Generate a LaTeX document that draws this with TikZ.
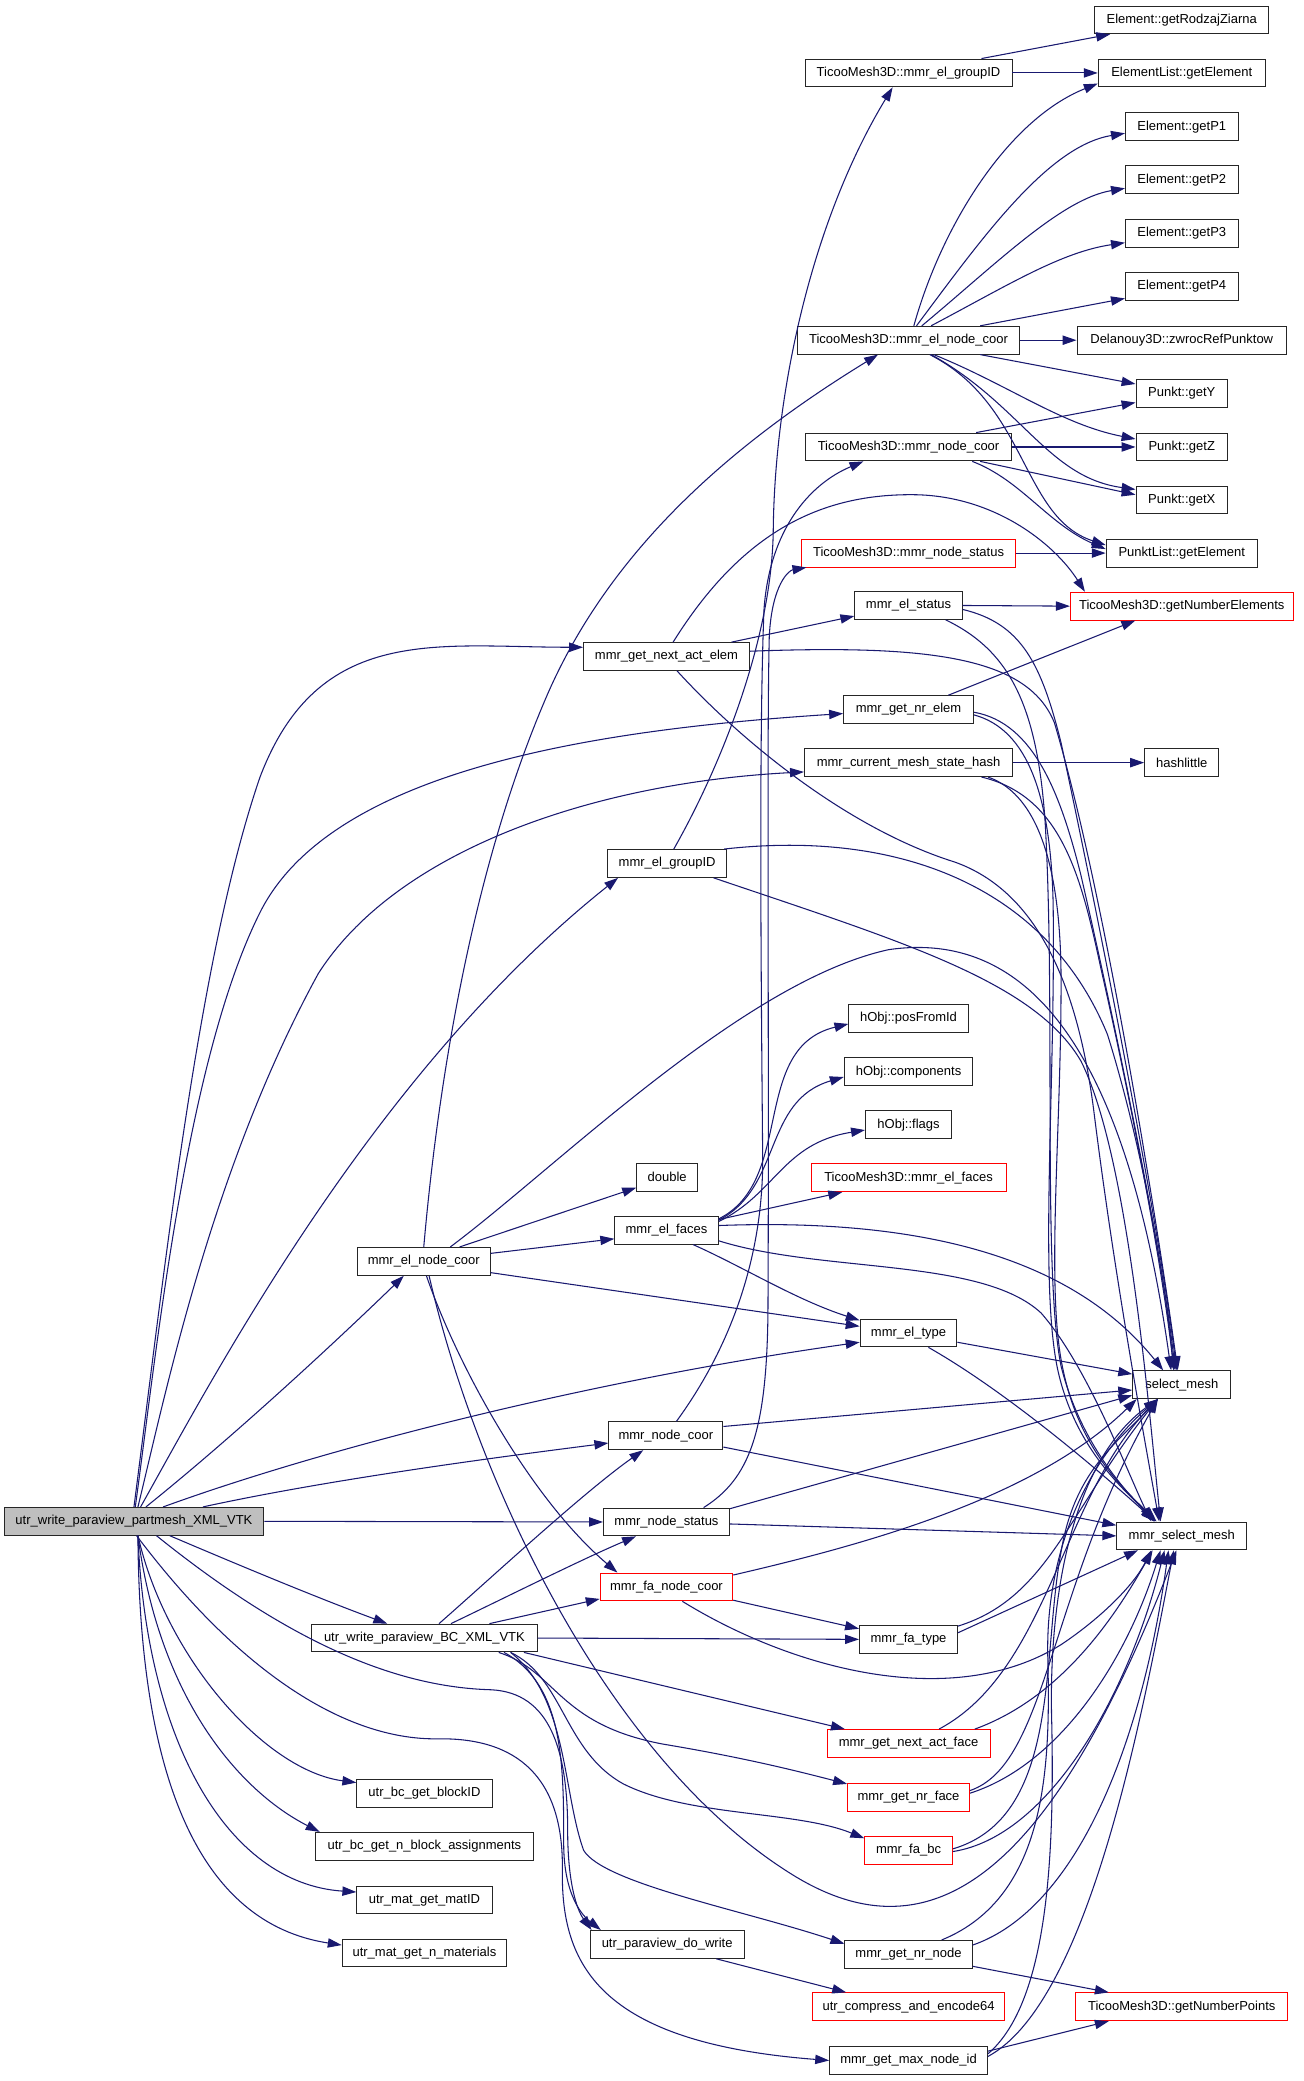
\documentclass[tikz,border=0pt]{standalone}
\usepackage{fontspec}
\setmainfont{Liberation Sans}
\usetikzlibrary{arrows.meta}
\definecolor{eblue}{RGB}{25,25,112}
\definecolor{bgray}{RGB}{191,191,191}
\tikzset{
  box/.style={draw=black!85, fill=white, line width=0.7pt, minimum height=21pt, inner sep=0pt, font=\fontsize{9.8}{11}\selectfont},
  rbox/.style={box, draw=red},
  e/.style={draw=eblue, line width=0.8pt, -{Triangle[length=10.5pt,width=7pt]}}
}
\begin{document}
\begin{tikzpicture}[x=1pt,y=-1pt]
\useasboundingbox (0,0) rectangle (983,1569);
\fill[white] (0,0) rectangle (983,1569);
% ---------- right column
\node[box, minimum width=131pt] (RZ) at (891,15) {Element::getRodzajZiarna};
\node[box, minimum width=126pt] (EL) at (891,55) {ElementList::getElement};
\node[box, minimum width=85pt] (P1) at (891,95.5) {Element::getP1};
\node[box, minimum width=85pt] (P2) at (891,135.5) {Element::getP2};
\node[box, minimum width=85pt] (P3) at (891,176) {Element::getP3};
\node[box, minimum width=85pt] (P4) at (891,216) {Element::getP4};
\node[box, minimum width=158pt] (DZ) at (891,256.5) {Delanouy3D::zwrocRefPunktow};
\node[box, minimum width=69pt] (PY) at (891,296.5) {Punkt::getY};
\node[box, minimum width=69pt] (PZ) at (891,337) {Punkt::getZ};
\node[box, minimum width=69pt] (PX) at (891,377) {Punkt::getX};
\node[box, minimum width=114pt] (PL) at (891,417) {PunktList::getElement};
\node[rbox, minimum width=168pt] (GNE) at (891,457) {TicooMesh3D::getNumberElements};
\node[box, minimum width=56pt] (HL) at (891,575) {hashlittle};
\node[box, minimum width=74pt] (SM) at (891,1044) {select\_mesh};
\node[box, minimum width=98pt] (MSM) at (891,1158) {mmr\_select\_mesh};
\node[rbox, minimum width=160pt] (GNP) at (891,1513) {TicooMesh3D::getNumberPoints};
% ---------- middle column
\node[box, minimum width=156pt] (TEG) at (685,55) {TicooMesh3D::mmr\_el\_groupID};
\node[box, minimum width=167pt] (TENC) at (685,256.5) {TicooMesh3D::mmr\_el\_node\_coor};
\node[box, minimum width=155pt] (TNC) at (685,337) {TicooMesh3D::mmr\_node\_coor};
\node[rbox, minimum width=161pt] (TNS) at (685,417) {TicooMesh3D::mmr\_node\_status};
\node[box, minimum width=81pt] (ES) at (685,456.5) {mmr\_el\_status};
\node[box, minimum width=98pt] (GNRE) at (685,535) {mmr\_get\_nr\_elem};
\node[box, minimum width=157pt] (CMSH) at (685,575) {mmr\_current\_mesh\_state\_hash};
\node[box, minimum width=90pt] (POS) at (685,768) {hObj::posFromId};
\node[box, minimum width=97pt] (COMP) at (685,808) {hObj::components};
\node[box, minimum width=65pt] (FLAGS) at (685,848) {hObj::flags};
\node[rbox, minimum width=147pt] (TEF) at (685,888) {TicooMesh3D::mmr\_el\_faces};
\node[box, minimum width=73pt] (ET) at (685,1005) {mmr\_el\_type};
\node[box, minimum width=74pt] (FT) at (685,1236) {mmr\_fa\_type};
\node[rbox, minimum width=123pt] (GNAF) at (685,1314.5) {mmr\_get\_next\_act\_face};
\node[rbox, minimum width=92pt] (GNRF) at (685,1355) {mmr\_get\_nr\_face};
\node[rbox, minimum width=66pt] (FABC) at (685,1395) {mmr\_fa\_bc};
\node[box, minimum width=96pt] (GNRN) at (685,1473.5) {mmr\_get\_nr\_node};
\node[rbox, minimum width=145pt] (UCE) at (685,1513) {utr\_compress\_and\_encode64};
\node[box, minimum width=119pt] (GMNI) at (685,1553.5) {mmr\_get\_max\_node\_id};
% ---------- second column
\node[box, minimum width=125pt] (NAE) at (502.5,495) {mmr\_get\_next\_act\_elem};
\node[box, minimum width=90pt] (EGID) at (503,651) {mmr\_el\_groupID};
\node[box, minimum width=46pt] (DOUBLE) at (503,887.5) {double};
\node[box, minimum width=78pt] (EF) at (502.5,927.5) {mmr\_el\_faces};
\node[box, minimum width=86pt] (NC) at (502,1082.5) {mmr\_node\_coor};
\node[box, minimum width=95pt] (NS) at (502.5,1147.5) {mmr\_node\_status};
\node[rbox, minimum width=100pt] (FNC) at (502.5,1196.5) {mmr\_fa\_node\_coor};
\node[box, minimum width=116pt] (PDW) at (503,1466) {utr\_paraview\_do\_write};
% ---------- first column
\node[box, minimum width=100pt] (ENC) at (319.5,951) {mmr\_el\_node\_coor};
\node[box, minimum width=170pt] (BC) at (320,1235) {utr\_write\_paraview\_BC\_XML\_VTK};
\node[box, minimum width=102pt] (BID) at (320,1352) {utr\_bc\_get\_blockID};
\node[box, minimum width=164pt] (NBA) at (320,1392) {utr\_bc\_get\_n\_block\_assignments};
\node[box, minimum width=102pt] (MID) at (320,1432.5) {utr\_mat\_get\_matID};
\node[box, minimum width=124pt] (NMAT) at (320,1472.5) {utr\_mat\_get\_n\_materials};
% ---------- main
\node[box, minimum width=196pt, fill=bgray] (M) at (101,1147) {utr\_write\_paraview\_partmesh\_XML\_VTK};

% ===== edges from main
\draw[e] (M.north) .. controls (125,950) and (150,720) .. (196,586) .. controls (240,470) and (330,488) .. ([yshift=7]NAE.west);
\draw[e] ([xshift=1]M.north) .. controls (118,1020) and (140,800) .. (196,688) .. controls (250,580) and (450,550) .. ([yshift=-3]GNRE.west);
\draw[e] ([xshift=3]M.north) .. controls (125,1050) and (160,880) .. (240,734) .. controls (300,640) and (450,590) .. ([yshift=-7]CMSH.west);
\draw[e] ([xshift=5]M.north) .. controls (160,1040) and (280,810) .. ([xshift=-37]EGID.south);
\draw[e] ([xshift=9]M.north) .. controls (180,1080) and (260,1005) .. ([xshift=-15]ENC.south);
\draw[e] ([xshift=22]M.north) .. controls (250,1090) and (450,1040) .. ([yshift=-7]ET.west);
\draw[e] ([xshift=52]M.north) .. controls (250,1115) and (380,1098) .. ([yshift=-5.5]NC.west);
\draw[e] (M.east) -- (NS.west);
\draw[e] ([xshift=27]M.south) .. controls (180,1180) and (240,1205) .. ([xshift=-28]BC.north);
\draw[e] ([xshift=3]M.south) .. controls (125,1250) and (200,1335) .. ([yshift=8]BID.west);
\draw[e] ([xshift=3]M.south) .. controls (120,1280) and (180,1350) .. ([xshift=-79]NBA.north);
\draw[e] ([xshift=3]M.south) .. controls (110,1310) and (170,1420) .. ([yshift=6]MID.west);
\draw[e] ([xshift=3]M.south) .. controls (105,1340) and (150,1450) .. ([yshift=6]NMAT.west);
\draw[e] ([xshift=17]M.south) .. controls (220,1240) and (300,1272) .. (370,1274) .. controls (415,1276) and (428,1320) .. (428,1380) .. controls (428,1420) and (435,1440) .. ([xshift=-57]PDW.north);
\draw[e] ([xshift=2]M.south) .. controls (180,1260) and (260,1312) .. (330,1311) .. controls (390,1310) and (425,1340) .. (424,1410) .. controls (423,1480) and (450,1540) .. (GMNI.west);

% ===== edges from BC
\draw[e] ([xshift=11]BC.north) .. controls (370,1190) and (440,1125) .. ([xshift=-17]NC.south);
\draw[e] ([xshift=20]BC.north) .. controls (380,1205) and (440,1175) .. ([xshift=-23]NS.south);
\draw[e] ([xshift=49]BC.north) -- ([yshift=-9]FNC.west);
\draw[e] (BC.east) -- (FT.west);
\draw[e] ([xshift=75]BC.south) -- ([xshift=-48]GNAF.north);
\draw[e] ([xshift=56]BC.south) .. controls (420,1260) and (420,1300) .. (500,1315) .. controls (560,1325) and (600,1335) .. ([yshift=10]GNRF.west);
\draw[e] ([xshift=65]BC.south) .. controls (425,1265) and (425,1320) .. (470,1345) .. controls (520,1370) and (600,1365) .. ([yshift=9]FABC.west);
\draw[e] ([xshift=65]BC.south) .. controls (428,1280) and (424,1350) .. (440,1395) .. controls (455,1420) and (560,1440) .. ([yshift=8]GNRN.west);
\draw[e] ([xshift=60]BC.south) .. controls (425,1270) and (425,1330) .. (425,1390) .. controls (425,1430) and (440,1445) .. ([xshift=-50]PDW.north);

% ===== edges from ENC
\draw[e] (ENC.north) .. controls (330,820) and (355,660) .. (410,530) .. controls (460,410) and (560,330) .. ([xshift=-23]TENC.south);
\draw[e] ([xshift=27]ENC.north) -- ([yshift=-8]DOUBLE.west);
\draw[e] ([yshift=6]ENC.east) -- ([yshift=-6.5]EF.west);
\draw[e] ([yshift=-8.5]ENC.east) -- ([yshift=5]ET.west);
\draw[e] ([xshift=2]ENC.south) .. controls (345,1030) and (400,1130) .. ([xshift=-37]FNC.north);
\draw[e] ([xshift=4]ENC.south) .. controls (360,1120) and (460,1330) .. (600,1415) .. controls (700,1475) and (790,1420) .. ([xshift=-4]MSM.south);
\draw[e] ([xshift=20]ENC.north) .. controls (420,880) and (560,740) .. (670,716) .. controls (780,700) and (850,800) .. ([xshift=-8]SM.north);

% ===== edges from EF
\draw[e] ([yshift=8.5]EF.east) .. controls (600,890) and (565,790) .. ([yshift=-4]POS.west);
\draw[e] ([yshift=7.5]EF.east) .. controls (590,895) and (575,830) .. ([yshift=-4]COMP.west);
\draw[e] ([yshift=6.5]EF.east) .. controls (585,900) and (590,862) .. ([yshift=-4]FLAGS.west);
\draw[e] ([yshift=8]EF.east) -- ([xshift=-50]TEF.south);
\draw[e] ([yshift=3.5]EF.east) .. controls (700,918) and (810,950) .. ([xshift=-14]SM.north);
\draw[e] ([yshift=-8]EF.east) .. controls (620,960) and (740,948) .. (785,990) .. controls (820,1030) and (850,1110) .. ([xshift=-23]MSM.north);
\draw[e] ([xshift=20]EF.south) .. controls (560,955) and (600,980) .. ([yshift=9.5]ET.west);

% ===== edges from ET, NC, NS, FNC
\draw[e] ([yshift=-7]ET.east) -- ([yshift=8]SM.west);
\draw[e] ([xshift=15]ET.south) .. controls (760,1050) and (830,1110) .. ([xshift=-20]MSM.north);
\draw[e] ([xshift=8]NC.north) .. controls (555,1010) and (576,940) .. (575,870) .. controls (574,750) and (572,560) .. (576,460) .. controls (580,400) and (610,365) .. ([xshift=-34]TNC.south);
\draw[e] ([yshift=7]NC.east) -- ([yshift=-4]SM.west);
\draw[e] ([yshift=-8.5]NC.east) -- ([yshift=8]MSM.west);
\draw[e] ([xshift=28]NS.north) .. controls (565,1115) and (578,1080) .. (579,990) .. controls (580,800) and (578,560) .. (580,480) .. controls (582,440) and (595,430) .. ([xshift=-77]TNS.south);
\draw[e] ([yshift=10]NS.east) -- ([yshift=-8]SM.west);
\draw[e] ([yshift=-1.5]NS.east) -- (MSM.west);
\draw[e] ([yshift=9]FNC.east) .. controls (650,1165) and (780,1130) .. ([xshift=-34]SM.south);
\draw[e] ([yshift=-10]FNC.east) -- ([yshift=8]FT.west);
\draw[e] ([xshift=12]FNC.south) .. controls (600,1260) and (720,1290) .. (800,1240) .. controls (830,1220) and (855,1195) .. ([xshift=-23]MSM.south);

% ===== lower middle column to select_mesh / mmr_select_mesh
\draw[e] ([yshift=10]FT.east) .. controls (790,1205) and (805,1140) .. ([xshift=-18]SM.south);
\draw[e] ([yshift=5]FT.east) -- ([xshift=-33]MSM.south);
\draw[e] ([xshift=23]GNAF.north) .. controls (790,1260) and (800,1130) .. ([xshift=-18]SM.south);
\draw[e] ([xshift=50]GNAF.north) .. controls (800,1280) and (840,1220) .. ([xshift=-22]MSM.south);
\draw[e] ([yshift=5]GNRF.east) .. controls (790,1330) and (790,1200) .. ([xshift=-18]SM.south);
\draw[e] ([yshift=3]GNRF.east) .. controls (800,1330) and (850,1250) .. ([xshift=-16]MSM.south);
\draw[e] ([yshift=1]FABC.east) .. controls (800,1370) and (785,1250) .. (800,1170) .. controls (810,1110) and (840,1090) .. ([xshift=-18]SM.south);
\draw[e] ([yshift=-1]FABC.east) .. controls (790,1385) and (850,1280) .. ([xshift=-13]MSM.south);
\draw[e] ([xshift=25]GNRN.north) .. controls (790,1430) and (792,1330) .. (790,1250) .. controls (788,1170) and (820,1100) .. ([xshift=-18]SM.south);
\draw[e] ([yshift=7]GNRN.east) .. controls (810,1440) and (860,1320) .. ([xshift=-10]MSM.south);
\draw[e] ([yshift=-9]GNRN.east) -- ([xshift=-55]GNP.north);
\draw[e] ([yshift=7]GMNI.east) -- ([xshift=-55]GNP.south);
\draw[e] ([yshift=5]GMNI.east) .. controls (790,1510) and (795,1400) .. (793,1300) .. controls (790,1200) and (810,1100) .. ([xshift=-18]SM.south);
\draw[e] ([yshift=3]GMNI.east) .. controls (820,1510) and (860,1300) .. ([xshift=-6]MSM.south);
\draw[e] ([xshift=37]PDW.south) -- ([xshift=-47]UCE.north);

% ===== upper middle
\draw[e] ([xshift=49]NAE.north) -- ([yshift=-8]ES.west);
\draw[e] ([xshift=5]NAE.north) .. controls (560,400) and (620,372) .. (690,373) .. controls (750,374) and (795,410) .. ([xshift=-73]GNE.north);
\draw[e] ([yshift=4]NAE.east) .. controls (700,486) and (775,495) .. (795,545) .. controls (835,680) and (875,940) .. ([xshift=-3]SM.north);
\draw[e] ([xshift=8]NAE.south) .. controls (560,560) and (640,625) .. (720,650) .. controls (790,675) and (815,760) .. (825,840) .. controls (840,960) and (862,1080) .. ([xshift=-17]MSM.north);
\draw[e] (ES.east) -- (GNE.west);
\draw[e] ([yshift=-3]ES.east) .. controls (770,470) and (785,500) .. (800,560) .. controls (830,700) and (875,930) .. ([xshift=-4]SM.north);
\draw[e] ([xshift=28]ES.south) .. controls (760,490) and (782,530) .. (788,620) .. controls (796,760) and (786,960) .. (800,1030) .. controls (815,1090) and (850,1125) .. ([xshift=-21]MSM.north);
\draw[e] ([xshift=30]GNRE.north) -- ([xshift=-35]GNE.south);
\draw[e] ([yshift=-2]GNRE.east) .. controls (780,545) and (800,600) .. (815,660) .. controls (845,790) and (877,950) .. ([xshift=-5]SM.north);
\draw[e] ([yshift=-4]GNRE.east) .. controls (775,550) and (792,600) .. (794,680) .. controls (796,820) and (783,970) .. (798,1035) .. controls (812,1095) and (850,1125) .. ([xshift=-20]MSM.north);
\draw[e] (CMSH.east) -- (HL.west);
\draw[e] ([xshift=55]CMSH.south) .. controls (800,600) and (815,660) .. (830,730) .. controls (855,840) and (877,960) .. ([xshift=-6]SM.north);
\draw[e] ([xshift=60]CMSH.south) .. controls (785,600) and (800,660) .. (800,740) .. controls (800,860) and (788,975) .. (802,1035) .. controls (815,1095) and (850,1125) .. ([xshift=-19]MSM.north);
\draw[e] ([xshift=5]EGID.north) .. controls (545,575) and (582,480) .. (583,400) .. controls (584,300) and (610,170) .. ([xshift=-12]TEG.south);
\draw[e] ([xshift=43]EGID.north) .. controls (680,625) and (790,670) .. (835,780) .. controls (860,860) and (878,960) .. ([xshift=-6]SM.north);
\draw[e] ([xshift=35]EGID.south) .. controls (680,710) and (780,740) .. (815,800) .. controls (850,870) and (865,1050) .. ([xshift=-16]MSM.north);

% ===== top right
\draw[e] ([xshift=55]TEG.north) -- ([xshift=-54]RZ.south);
\draw[e] (TEG.east) -- (EL.west);
\draw[e] ([xshift=4]TENC.north) .. controls (710,170) and (760,90) .. ([yshift=-8]EL.west);
\draw[e] ([xshift=6]TENC.north) .. controls (740,180) and (790,110) .. ([yshift=-5]P1.west);
\draw[e] ([xshift=10]TENC.north) .. controls (750,200) and (800,150) .. ([yshift=-6.5]P2.west);
\draw[e] ([xshift=17]TENC.north) .. controls (760,215) and (800,190) .. ([yshift=-7]P3.west);
\draw[e] ([xshift=54]TENC.north) -- ([yshift=-9]P4.west);
\draw[e] (TENC.east) -- (DZ.west);
\draw[e] ([xshift=54]TENC.south) -- ([yshift=7]PY.west);
\draw[e] ([xshift=19]TENC.south) .. controls (760,290) and (800,320) .. ([yshift=6]PZ.west);
\draw[e] ([xshift=17]TENC.south) .. controls (770,305) and (790,360) .. ([yshift=8]PX.west);
\draw[e] ([xshift=16]TENC.south) .. controls (775,305) and (770,390) .. ([yshift=6]PL.west);
\draw[e] ([xshift=51]TNC.north) -- ([yshift=-7]PY.west);
\draw[e] (TNC.east) -- (PZ.west);
\draw[e] ([xshift=54]TNC.south) -- ([yshift=4]PX.west);
\draw[e] ([xshift=48]TNC.south) .. controls (770,362) and (790,395) .. ([yshift=3]PL.west);
\draw[e] (TNS.east) -- (PL.west);
\end{tikzpicture}
\end{document}
